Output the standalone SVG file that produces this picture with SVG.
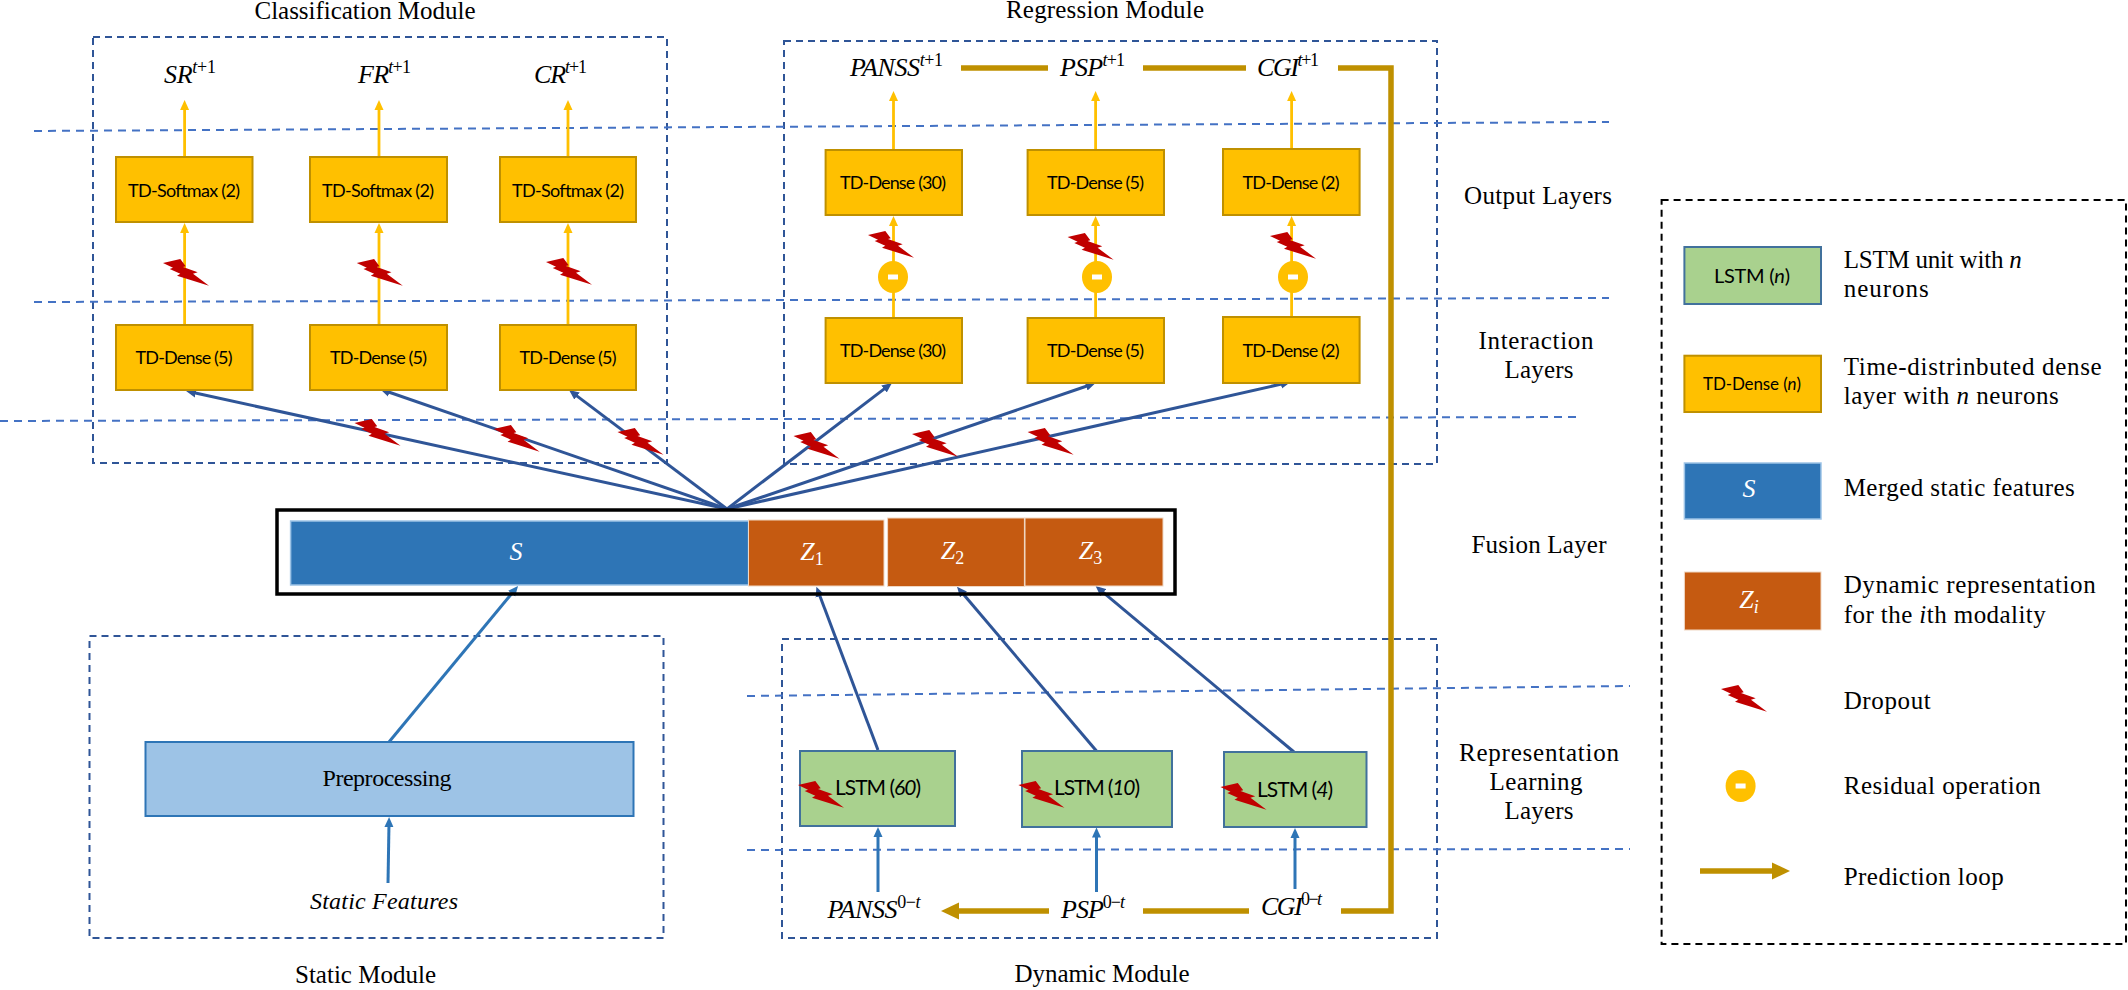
<svg xmlns="http://www.w3.org/2000/svg" width="2128" height="990" viewBox="0 0 2128 990">
<style>
text{font-family:"Liberation Serif","Times New Roman",serif;fill:#000}
.h{font-size:25px;text-anchor:middle}
.l{font-size:25px}
.m{font-size:26px;font-style:italic;text-anchor:middle}
.w{fill:#fff}
.s{font-size:18px}
.u{font-style:normal}
.c{font-family:Lato,"Open Sans",sans-serif;font-size:18px;text-anchor:middle}
.mod{fill:none;stroke:#2f5597;stroke-width:2;stroke-dasharray:7 5}
.sep{fill:none;stroke:#4472c4;stroke-width:2;stroke-dasharray:8 6}
.td{fill:#ffc000;stroke:#bf9000;stroke-width:2}
.ls{fill:#a9d18e;stroke:#41719c;stroke-width:2}
.zz{fill:#c55a11;stroke:#f0d8c4;stroke-width:1}
.ss{fill:#2e75b6;stroke:#9dc3e6;stroke-width:1.5}
.ya{stroke:#ffc000;stroke-width:2.8;fill:none;marker-end:url(#ya)}
.da{stroke:#2f5597;stroke-width:3;fill:none;marker-end:url(#da)}
.ba{stroke:#2e75b6;stroke-width:3;fill:none;marker-end:url(#ba)}
.go{stroke:#bf9000;stroke-width:5.5;fill:none}
.min{fill:#fff}
.res{fill:#ffc000}
</style>
<defs>
<marker id="ya" markerUnits="userSpaceOnUse" markerWidth="10" markerHeight="10" refX="4" refY="5" orient="auto"><path d="M0,.5L10,5L0,9.5Z" fill="#ffc000"/></marker>
<marker id="da" markerUnits="userSpaceOnUse" markerWidth="10" markerHeight="10" refX="4" refY="5" orient="auto"><path d="M0,.5L10,5L0,9.5Z" fill="#2f5597"/></marker>
<marker id="ba" markerUnits="userSpaceOnUse" markerWidth="10" markerHeight="10" refX="4" refY="5" orient="auto"><path d="M0,.5L10,5L0,9.5Z" fill="#2e75b6"/></marker>
<marker id="ga" markerUnits="userSpaceOnUse" markerWidth="18" markerHeight="18" refX="1" refY="9" orient="auto"><path d="M0,.5L18,9L0,17.5Z" fill="#bf9000"/></marker>
<polygon id="bolt" fill="#c00000" points="0,4 17.3,0 22.7,7.3 20,8 34.7,13.3 30,14.7 46,26.7 14,16.7 17.3,14.7 6.7,10 10,8.7"/>
</defs>
<rect width="2128" height="990" fill="#fff"/>
<g id="module-boxes">
<rect class="mod" x="93" y="37" width="574" height="426"/>
<rect class="mod" x="784" y="41" width="653" height="423"/>
<rect class="mod" x="89.5" y="636" width="574" height="302"/>
<rect class="mod" x="782" y="639" width="655" height="299"/>
</g>
<g id="layer-separators">
<line class="sep" x1="34" y1="131" x2="1609" y2="122"/>
<line class="sep" x1="34" y1="302" x2="1609" y2="298"/>
<line class="sep" x1="0" y1="421" x2="1576" y2="417"/>
<line class="sep" x1="747" y1="696" x2="1630" y2="686"/>
<line class="sep" x1="747" y1="850" x2="1630" y2="849"/>
</g>
<g id="connectors">
<line class="ya" x1="184.6" y1="157" x2="184.6" y2="106"/>
<line class="ya" x1="379" y1="157" x2="379" y2="106"/>
<line class="ya" x1="568" y1="157" x2="568" y2="106"/>
<line class="ya" x1="184.6" y1="325" x2="184.6" y2="229"/>
<line class="ya" x1="379" y1="325" x2="379" y2="229"/>
<line class="ya" x1="568" y1="325" x2="568" y2="229"/>
<line class="ya" x1="893.5" y1="150" x2="893.5" y2="97"/>
<line class="ya" x1="1095.6" y1="150" x2="1095.6" y2="97"/>
<line class="ya" x1="1291.6" y1="149" x2="1291.6" y2="97"/>
<line class="ya" x1="893.5" y1="318" x2="893.5" y2="222"/>
<line class="ya" x1="1095.6" y1="318" x2="1095.6" y2="222"/>
<line class="ya" x1="1291.6" y1="317" x2="1291.6" y2="222"/>
<line class="da" x1="727" y1="509" x2="191.9" y2="392.3"/>
<line class="da" x1="727" y1="509" x2="385.7" y2="391"/>
<line class="da" x1="727" y1="509" x2="573.8" y2="393.6"/>
<line class="da" x1="727" y1="509" x2="887.2" y2="386.6"/>
<line class="da" x1="727" y1="509" x2="1089.9" y2="385"/>
<line class="da" x1="727" y1="509" x2="1284.8" y2="383.3"/>
<line class="da" x1="878" y1="750" x2="818.5" y2="592.3"/>
<line class="da" x1="1096.5" y1="751" x2="960.9" y2="591.3"/>
<line class="da" x1="1294" y1="752" x2="1100.2" y2="589.9"/>
<line class="ba" x1="389" y1="742" x2="514.2" y2="590.6"/>
<line class="ba" x1="388" y1="883" x2="389" y2="823"/>
<line class="ba" x1="878" y1="892" x2="878" y2="833"/>
<line class="ba" x1="1096.5" y1="892" x2="1096.5" y2="833.5"/>
<line class="ba" x1="1295" y1="889" x2="1295" y2="834"/>
<line class="go" x1="961" y1="68" x2="1048" y2="68"/>
<line class="go" x1="1143" y1="68" x2="1246" y2="68"/>
<path class="go" d="M1338,68H1391V911H1341"/>
<line class="go" x1="1249" y1="911" x2="1143" y2="911"/>
<line class="go" x1="1049" y1="911" x2="958" y2="911" marker-end="url(#ga)"/>
</g>
<g id="titles">
<text class="h" x="365" y="19" textLength="221">Classification Module</text>
<text class="h" x="1105" y="18" textLength="198">Regression Module</text>
<text class="h" x="365.5" y="983" textLength="141">Static Module</text>
<text class="h" x="1102" y="982" textLength="175">Dynamic Module</text>
<text class="h" x="1538" y="204" textLength="148">Output Layers</text>
<text class="h" x="1536" y="349" textLength="115">Interaction</text>
<text class="h" x="1539" y="378" textLength="69">Layers</text>
<text class="h" x="1539" y="553" textLength="135">Fusion Layer</text>
<text class="h" x="1539" y="761" textLength="160">Representation</text>
<text class="h" x="1536" y="790" textLength="93">Learning</text>
<text class="h" x="1539" y="819" textLength="69">Layers</text>
</g>
<g id="outputs">
<text class="m" x="190" y="83" textLength="52">SR<tspan class="s" dy="-10">t</tspan><tspan class="s u">+1</tspan></text>
<text class="m" x="384.5" y="83" textLength="53">FR<tspan class="s" dy="-10">t</tspan><tspan class="s u">+1</tspan></text>
<text class="m" x="560.5" y="83" textLength="53">CR<tspan class="s" dy="-10">t</tspan><tspan class="s u">+1</tspan></text>
<text class="m" x="896.5" y="76" textLength="93">PANSS<tspan class="s" dy="-10">t</tspan><tspan class="s u">+1</tspan></text>
<text class="m" x="1092.5" y="76" textLength="65">PSP<tspan class="s" dy="-10">t</tspan><tspan class="s u">+1</tspan></text>
<text class="m" x="1288" y="76" textLength="62">CGI<tspan class="s" dy="-10">t</tspan><tspan class="s u">+1</tspan></text>
</g>
<g id="inputs">
<text class="m" x="874" y="918" textLength="93">PANSS<tspan class="s u" dy="-10">0−</tspan><tspan class="s">t</tspan></text>
<text class="m" x="1093" y="918" textLength="64">PSP<tspan class="s u" dy="-10">0−</tspan><tspan class="s">t</tspan></text>
<text class="m" x="1291.5" y="915" textLength="61">CGI<tspan class="s u" dy="-10">0−</tspan><tspan class="s">t</tspan></text>
<text class="m" x="384" y="909" style="font-size:24px" textLength="148">Static Features</text>
</g>
<g id="softmax-sr"><rect class="td" x="116" y="157" width="136.5" height="65"/><text class="c" x="184" y="197" textLength="112">TD-Softmax (2)</text></g>
<g id="softmax-fr"><rect class="td" x="310" y="157" width="137" height="65"/><text class="c" x="378" y="197" textLength="112">TD-Softmax (2)</text></g>
<g id="softmax-cr"><rect class="td" x="500" y="157" width="136" height="65"/><text class="c" x="568" y="197" textLength="112">TD-Softmax (2)</text></g>
<g id="dense-c1"><rect class="td" x="116" y="325" width="136.5" height="65"/><text class="c" x="184" y="364" textLength="97">TD-Dense (5)</text></g>
<g id="dense-c2"><rect class="td" x="310" y="325" width="137" height="65"/><text class="c" x="378.5" y="364" textLength="97">TD-Dense (5)</text></g>
<g id="dense-c3"><rect class="td" x="500" y="325" width="136" height="65"/><text class="c" x="568" y="364" textLength="97">TD-Dense (5)</text></g>
<g id="dense-r1u"><rect class="td" x="825.6" y="150" width="136.4" height="65"/><text class="c" x="893" y="189" textLength="106">TD-Dense (30)</text></g>
<g id="dense-r2u"><rect class="td" x="1027.6" y="150" width="136.4" height="65"/><text class="c" x="1095.5" y="189" textLength="97">TD-Dense (5)</text></g>
<g id="dense-r3u"><rect class="td" x="1223" y="149" width="136.6" height="66"/><text class="c" x="1291" y="189" textLength="97">TD-Dense (2)</text></g>
<g id="dense-r1l"><rect class="td" x="825.6" y="318" width="136.4" height="65"/><text class="c" x="893" y="357" textLength="106">TD-Dense (30)</text></g>
<g id="dense-r2l"><rect class="td" x="1027.6" y="318" width="136.4" height="65"/><text class="c" x="1095.5" y="357" textLength="97">TD-Dense (5)</text></g>
<g id="dense-r3l"><rect class="td" x="1223" y="317" width="136.6" height="66"/><text class="c" x="1291" y="357" textLength="97">TD-Dense (2)</text></g>
<g id="residuals">
<ellipse class="res" cx="893" cy="277" rx="15" ry="16"/><rect class="min" x="888" y="274.5" width="10" height="5"/>
<ellipse class="res" cx="1097" cy="277" rx="15" ry="16"/><rect class="min" x="1092" y="274.5" width="10" height="5"/>
<ellipse class="res" cx="1293" cy="277" rx="15" ry="16"/><rect class="min" x="1288" y="274.5" width="10" height="5"/>
</g>
<g id="fusion-layer">
<rect x="277" y="510" width="898" height="84" fill="none" stroke="#000" stroke-width="3.5"/>
<rect class="ss" x="290.6" y="521" width="458" height="64"/>
<rect class="zz" x="748.5" y="520" width="135.5" height="66"/>
<rect class="zz" x="887.6" y="518" width="136.8" height="68.5"/>
<rect class="zz" x="1025" y="518" width="138" height="68"/>
<text class="m w" x="516" y="560">S</text>
<text class="m w" x="812" y="560">Z<tspan class="s u w" dy="5">1</tspan></text>
<text class="m w" x="952.5" y="559">Z<tspan class="s u w" dy="5">2</tspan></text>
<text class="m w" x="1090.5" y="559">Z<tspan class="s u w" dy="5">3</tspan></text>
</g>
<g id="preprocessing"><rect x="145.5" y="742" width="488" height="74" fill="#9dc3e6" stroke="#2e75b6" stroke-width="2"/><text class="h" x="387" y="786" style="font-size:24px" textLength="129">Preprocessing</text></g>
<g id="lstm-60"><rect class="ls" x="800" y="751" width="155" height="75"/><text class="c" x="878" y="795" style="font-size:21px" textLength="86">LSTM (<tspan font-style="italic">60</tspan>)</text></g>
<g id="lstm-10"><rect class="ls" x="1022" y="751" width="150" height="76"/><text class="c" x="1097" y="795" style="font-size:21px" textLength="86">LSTM (<tspan font-style="italic">10</tspan>)</text></g>
<g id="lstm-4"><rect class="ls" x="1224" y="752" width="142.5" height="75"/><text class="c" x="1295" y="797" style="font-size:21px" textLength="76">LSTM (<tspan font-style="italic">4</tspan>)</text></g>
<g id="dropouts">
<use href="#bolt" x="163" y="259"/><use href="#bolt" x="356.8" y="259"/><use href="#bolt" x="546" y="258"/>
<use href="#bolt" x="354.5" y="419"/><use href="#bolt" x="493.6" y="425"/><use href="#bolt" x="617.5" y="428"/>
<use href="#bolt" x="868" y="231"/><use href="#bolt" x="1067.6" y="233"/><use href="#bolt" x="1270" y="232"/>
<use href="#bolt" x="793.5" y="432"/><use href="#bolt" x="912" y="430"/><use href="#bolt" x="1027.6" y="428"/>
<use href="#bolt" x="798" y="781"/><use href="#bolt" x="1018.4" y="781"/><use href="#bolt" x="1220.5" y="783"/>
</g>
<g id="legend">
<rect x="1661.6" y="200" width="464.4" height="744" fill="none" stroke="#000" stroke-width="2" stroke-dasharray="7 5"/>
<g id="legend-lstm"><rect class="ls" x="1684.4" y="247" width="136.6" height="57"/><text class="c" x="1752" y="283" style="font-size:20px" textLength="76">LSTM (<tspan font-style="italic">n</tspan>)</text></g>
<g id="legend-td"><rect class="td" x="1684.4" y="355.7" width="136.6" height="56.3"/><text class="c" x="1752" y="390" style="font-size:17px" textLength="98">TD-Dense (<tspan font-style="italic">n</tspan>)</text></g>
<g id="legend-s"><rect class="ss" x="1684.4" y="463" width="136.6" height="56"/><text class="m w" x="1749" y="497">S</text></g>
<g id="legend-z"><rect class="zz" x="1684.4" y="572" width="136.6" height="58"/><text class="m w" x="1749" y="608">Z<tspan class="s w" dy="5">i</tspan></text></g>
<use href="#bolt" x="1721" y="685"/>
<ellipse class="res" cx="1740.6" cy="786" rx="15" ry="16"/><rect class="min" x="1735.6" y="783.5" width="10" height="5"/>
<line class="go" x1="1700" y1="871" x2="1773" y2="871" marker-end="url(#ga)"/>
<text class="l" x="1843.7" y="268" textLength="178">LSTM unit with <tspan font-style="italic">n</tspan></text>
<text class="l" x="1843.7" y="297" textLength="85">neurons</text>
<text class="l" x="1843.7" y="375" textLength="258">Time-distrinbuted dense</text>
<text class="l" x="1843.7" y="404" textLength="215">layer with <tspan font-style="italic">n</tspan> neurons</text>
<text class="l" x="1843.7" y="496" textLength="231">Merged static features</text>
<text class="l" x="1843.7" y="593" textLength="252">Dynamic representation</text>
<text class="l" x="1843.7" y="623" textLength="202">for the <tspan font-style="italic">i</tspan>th modality</text>
<text class="l" x="1843.7" y="709" textLength="87">Dropout</text>
<text class="l" x="1843.7" y="794" textLength="197">Residual operation</text>
<text class="l" x="1843.7" y="885" textLength="160">Prediction loop</text>
</g>
</svg>
